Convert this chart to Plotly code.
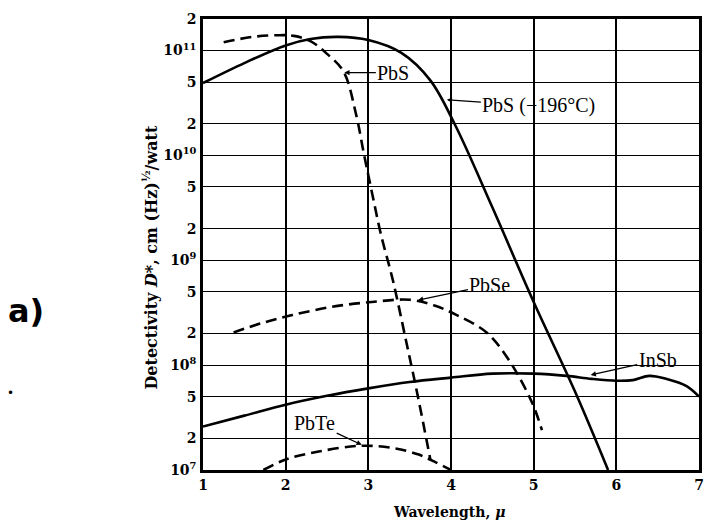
import plotly.graph_objects as go

# ---- data ----
pbs_cold_x = [1.0, 1.5, 2.0, 2.3, 2.64, 3.0, 3.4, 3.75, 4.05, 4.5, 5.0, 5.5, 5.9]
pbs_cold_y = [4.9e10, 7.6e10, 1.12e11, 1.29e11, 1.35e11, 1.26e11, 9.5e10, 5.2e10, 1.95e10, 3.2e9, 4.0e8, 5.6e7, 1.0e7]

pbs_x = [1.25, 1.6, 1.9, 2.1, 2.3, 2.5, 2.7, 2.85, 2.95, 3.05, 3.15, 3.3, 3.45, 3.6, 3.75]
pbs_y = [1.2e11, 1.35e11, 1.4e11, 1.38e11, 1.23e11, 9.3e10, 6.3e10, 2.5e10, 1.0e10, 4.2e9, 1.8e9, 6.3e8, 1.8e8, 5.0e7, 1.26e7]

pbse_x = [1.37, 1.7, 2.08, 2.56, 3.04, 3.5, 3.8, 4.07, 4.43, 4.7, 4.98, 5.1]
pbse_y = [2.05e8, 2.5e8, 3.0e8, 3.6e8, 4.0e8, 4.2e8, 3.7e8, 3.0e8, 2.05e8, 1.12e8, 4.4e7, 2.4e7]

pbte_x = [1.73, 2.0, 2.4, 2.9, 3.3, 3.6, 3.8, 4.0]
pbte_y = [1.0e7, 1.26e7, 1.5e7, 1.7e7, 1.62e7, 1.41e7, 1.2e7, 1.0e7]

insb_x = [1.0, 1.5, 2.0, 2.5, 3.0, 3.5, 4.0, 4.5, 5.0, 5.4, 5.7, 6.0, 6.2, 6.4, 6.6, 6.85, 7.0]
insb_y = [2.6e7, 3.3e7, 4.2e7, 5.1e7, 6.0e7, 6.9e7, 7.6e7, 8.3e7, 8.3e7, 7.9e7, 7.4e7, 7.1e7, 7.2e7, 7.9e7, 7.4e7, 6.3e7, 5.0e7]

x_ticks = [1, 2, 3, 4, 5, 6, 7]
y_ticks = [1e7, 2e7, 5e7, 1e8, 2e8, 5e8, 1e9, 2e9, 5e9, 1e10, 2e10, 5e10, 1e11, 2e11]
y_tick_text = ["10<sup>7</sup>", "2", "5", "10<sup>8</sup>", "2", "5", "10<sup>9</sup>", "2", "5",
               "10<sup>10</sup>", "2", "5", "10<sup>11</sup>", "2"]

# label text, arrow tip x, tip y (log10), text offset px
labels = [
    ("PbS", 2.71, 10.79, 49, 0),
    ("PbS (−196°C)", 3.95, 10.53, 92, 6),
    ("PbSe", 3.6, 8.62, 72, -15),
    ("InSb", 5.69, 7.906, 67, -15),
    ("PbTe", 2.92, 7.24, -47, -22),
]

SERIF = "Liberation Serif"
WIDE_SERIF = "DejaVu Serif"

fig = go.Figure()
solid = dict(color="black", width=2.6)
dashed = dict(color="black", width=2.6, dash="11px,6px")
fig.add_trace(go.Scatter(x=pbs_cold_x, y=pbs_cold_y, mode="lines", line=dict(**solid, shape="spline")))
fig.add_trace(go.Scatter(x=pbs_x, y=pbs_y, mode="lines", line=dict(**dashed, shape="spline")))
fig.add_trace(go.Scatter(x=pbse_x, y=pbse_y, mode="lines", line=dict(**dashed, shape="spline")))
fig.add_trace(go.Scatter(x=pbte_x, y=pbte_y, mode="lines", line=dict(**dashed, shape="spline")))
fig.add_trace(go.Scatter(x=insb_x, y=insb_y, mode="lines", line=dict(**solid, shape="spline")))

annotations = []
for text, tx, ty, ox, oy in labels:
    annotations.append(dict(x=tx, y=ty, xref="x", yref="y", text=text, showarrow=True,
                            arrowhead=2, arrowsize=0.8, arrowwidth=1.3, arrowcolor="black",
                            ax=ox, ay=oy, font=dict(family=SERIF, size=20, color="black")))

annotations.append(dict(xref="paper", yref="paper", x=-0.106, y=0.472, textangle=-90,
                        xanchor="center", yanchor="middle",
                        text="<b>Detectivity <i>D</i>*, cm (Hz)<sup>½</sup>/watt</b>",
                        showarrow=False, font=dict(family=WIDE_SERIF, size=16, color="black")))
annotations.append(dict(xref="paper", yref="paper", x=0.495, y=-0.093,
                        xanchor="center", yanchor="middle",
                        text="<b>Wavelength, <i>μ</i></b>",
                        showarrow=False, font=dict(family=WIDE_SERIF, size=14, color="black")))
annotations.append(dict(xref="paper", yref="paper", x=-0.357, y=0.353,
                        xanchor="center", yanchor="middle",
                        text="<b>a)</b>", showarrow=False,
                        font=dict(family="DejaVu Sans", size=32, color="black")))
annotations.append(dict(xref="paper", yref="paper", x=-0.389, y=0.17,
                        xanchor="center", yanchor="middle",
                        text="•", showarrow=False,
                        font=dict(family="DejaVu Sans", size=12, color="black")))

fig.update_layout(
    width=704, height=527,
    margin=dict(l=203, r=0, t=19, b=57),
    paper_bgcolor="white", plot_bgcolor="white",
    showlegend=False,
    annotations=annotations,
    xaxis=dict(range=[1, 7], tickvals=x_ticks, ticktext=[f"<b>{v}</b>" for v in x_ticks],
               showgrid=True, gridcolor="black", gridwidth=1.6,
               showline=True, linecolor="black", linewidth=2.5, mirror=True,
               ticks="", zeroline=False, ticklabeloverflow="allow",
               tickfont=dict(family=WIDE_SERIF, size=14, color="black")),
    yaxis=dict(type="log", range=[7, 11.30103], tickvals=y_ticks,
               ticktext=[f"<b>{t}</b>" for t in y_tick_text],
               showgrid=True, gridcolor="black", gridwidth=1.3,
               showline=True, linecolor="black", linewidth=2.5, mirror=True,
               ticks="", zeroline=False, ticklabelstandoff=1,
               tickfont=dict(family=WIDE_SERIF, size=14, color="black")),
)

fig.write_html("out.html")
